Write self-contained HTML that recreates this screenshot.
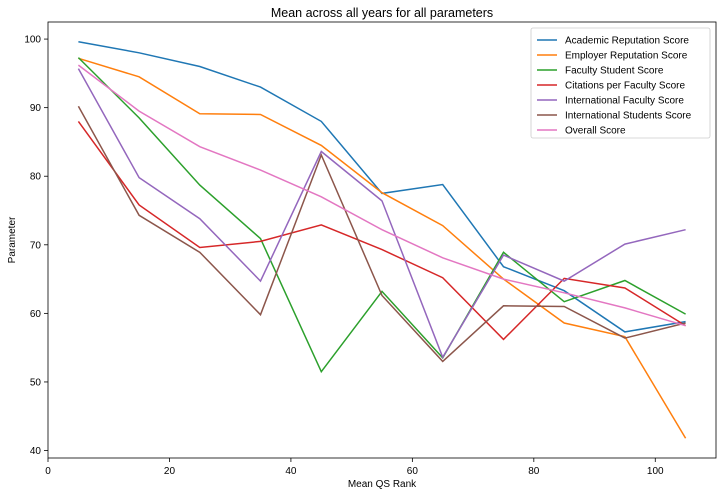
<!DOCTYPE html>
<html><head><meta charset="utf-8"><style>
body{margin:0;background:#fff;}
svg{font-family:"Liberation Sans","DejaVu Sans",sans-serif;}
</style></head><body>
<svg id="chart" width="723" height="496"></svg>
<script>
const xValues=[5,15,25,35,45,55,65,75,85,95,105];
const seriesNames=["Academic Reputation Score","Employer Reputation Score","Faculty Student Score","Citations per Faculty Score","International Faculty Score","International Students Score","Overall Score"];
const academic=[99.6,98,96,93,88,77.5,78.8,66.8,63.3,57.3,58.8];
const employer=[97.2,94.5,89.1,89.0,84.5,77.6,72.8,65,58.6,56.6,41.8];
const facultyStudent=[97.3,88.5,78.7,70.9,51.5,63.2,53.5,68.9,61.7,64.8,59.9];
const citations=[88,75.8,69.6,70.5,72.9,69.3,65.2,56.2,65.1,63.7,58.2];
const intlFaculty=[95.7,79.8,73.8,64.7,83.6,76.4,53.6,68.5,64.7,70.1,72.2];
const intlStudents=[90.2,74.3,68.9,59.8,83.1,62.6,53,61.1,61,56.4,58.6];
const overall=[96.2,89.5,84.3,80.9,77,72.2,68.1,65,63,60.8,58.2];
const xTicks=[0,20,40,60,80,100];
const yTicks=[40,50,60,70,80,90,100];
const colors=["#1f77b4","#ff7f0e","#2ca02c","#d62728","#9467bd","#8c564b","#e377c2"];
const allSeries=[academic,employer,facultyStudent,citations,intlFaculty,intlStudents,overall];

const L=48,R=716,T=22,B=458;
const flat=allSeries.flat();
const dmin=Math.min(...flat),dmax=Math.max(...flat);
const xmin=Math.min(...xValues),xmax=Math.max(...xValues);
const xlo=xmin-(xmax-xmin)*0.05,xhi=xmax+(xmax-xmin)*0.05;
const ylo=dmin-(dmax-dmin)*0.05,yhi=dmax+(dmax-dmin)*0.05;
const sx=v=>L+(v-0)/(xhi-0)*(R-L);
const sy=v=>B-(v-ylo)/(yhi-ylo)*(B-T);
const NS="http://www.w3.org/2000/svg";
const svg=document.getElementById('chart');
function mk(tag,attrs,parent){const e=document.createElementNS(NS,tag);for(const k in attrs)e.setAttribute(k,attrs[k]);(parent||svg).appendChild(e);return e;}

const title=mk('text',{x:(L+R)/2,y:17,'text-anchor':'middle','font-size':12.5,fill:'#000'});
title.textContent="Mean across all years for all parameters";



xTicks.forEach(t=>{
  const x=sx(t);
  const ln=mk('line',{x1:x,x2:x,y1:B,y2:B+4,stroke:'#000','stroke-width':0.8});
  
  
  const tx=mk('text',{x:x,y:B+16,'text-anchor':'middle','font-size':10,fill:'#000'});
  tx.textContent=t;
  
  
});
yTicks.forEach(t=>{
  const y=sy(t);
  const ln=mk('line',{x1:L-4,x2:L,y1:y,y2:y,stroke:'#000','stroke-width':0.8});
  
  
  const tx=mk('text',{x:L-7,y:y+3.5,'text-anchor':'end','font-size':10,fill:'#000'});
  tx.textContent=t;
  
  
});
const xl=mk('text',{x:(L+R)/2,y:487,'text-anchor':'middle','font-size':10,fill:'#000'});
xl.textContent="Mean QS Rank";


const yl=mk('text',{x:15,y:(T+B)/2,'text-anchor':'middle','font-size':10,fill:'#000',transform:`rotate(-90 15 ${(T+B)/2})`});
yl.textContent="Parameter";



allSeries.forEach((s,i)=>{
  const d=s.map((v,j)=>(j?'L':'M')+sx(xValues[j]).toFixed(1)+','+sy(v).toFixed(1)).join(' ');
  const p=mk('path',{d:d,fill:'none',stroke:colors[i],'stroke-width':1.5});
  
  
});

const frame=mk('rect',{x:L,y:T,width:R-L,height:B-T,fill:'none',stroke:'#000','stroke-width':0.8});



const lg=mk('g',{});


mk('rect',{x:531,y:28,width:179,height:110,fill:'#fff',stroke:'#ccc','stroke-width':0.8,rx:2},lg);
seriesNames.forEach((n,i)=>{
  const y=40+i*15;
  const g=mk('g',{},lg);
  
  
  mk('line',{x1:537,x2:557,y1:y,y2:y,stroke:colors[i],'stroke-width':1.5},g);
  const t=mk('text',{x:565,y:y+3.5,'font-size':10,fill:'#000'},g);
  t.textContent=n;
});
</script>
</body></html>
